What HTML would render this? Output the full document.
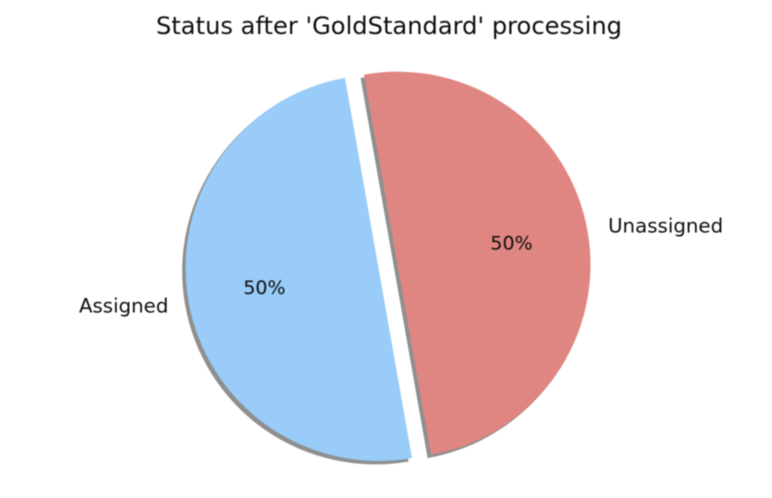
<!DOCTYPE html>
<html>
<head>
<meta charset="utf-8">
<style>
html,body{margin:0;padding:0;background:#fff;width:772px;height:498px;overflow:hidden}
svg{display:block}
text{font-family:"DejaVu Sans","Liberation Sans",sans-serif;fill:#111}
</style>
</head>
<body>
<svg id="chart" width="772" height="498" viewBox="0 0 772 498" xmlns="http://www.w3.org/2000/svg">
  <defs>
    <filter id="soft" x="-5%" y="-5%" width="110%" height="110%"><feGaussianBlur stdDeviation="0.6"/></filter>
    <filter id="softText" x="-5%" y="-20%" width="110%" height="140%"><feGaussianBlur stdDeviation="0.5"/></filter>
  </defs>
  <text x="389" y="34" text-anchor="middle" font-size="24.2" textLength="466" lengthAdjust="spacingAndGlyphs" filter="url(#softText)">Status after 'GoldStandard' processing</text>
  <g id="shadows" filter="url(#soft)"></g>
  <g id="wedges" filter="url(#soft)"></g>
  <g id="labels" filter="url(#softText)"></g>
</svg>
<script>
const categories = ['Assigned', 'Unassigned'];
const values = [50, 50];
const explodeFractions = [0, 0.1];
const startAngle = 100;
const sliceColors = ['#99ccf8', '#e08682'];

const cx = 378.5, cy = 268, radius = 193;
const ns = 'http://www.w3.org/2000/svg';
const total = values.reduce((a, b) => a + b, 0);
const shadowsGroup = document.getElementById('shadows');
const wedgesGroup = document.getElementById('wedges');
const labelsGroup = document.getElementById('labels');

function pointAt(x, y, r, deg) {
  const a = deg * Math.PI / 180;
  return [x + r * Math.cos(a), y - r * Math.sin(a)];
}
function wedgePath(x, y, r, a0, a1) {
  const p0 = pointAt(x, y, r, a0);
  const p1 = pointAt(x, y, r, a1);
  const large = a1 - a0 > 180 ? 1 : 0;
  return 'M' + x + ' ' + y + 'L' + p0[0] + ' ' + p0[1] + 'A' + r + ' ' + r + ' 0 ' + large + ' 0 ' + p1[0] + ' ' + p1[1] + 'Z';
}
function addText(x, y, str, anchor, size) {
  const t = document.createElementNS(ns, 'text');
  t.setAttribute('x', x);
  t.setAttribute('y', y);
  t.setAttribute('text-anchor', anchor);
  t.setAttribute('font-size', size);
  t.setAttribute('dominant-baseline', 'central');
  t.textContent = str;
  labelsGroup.appendChild(t);
  return t;
}

let angle = startAngle;
values.forEach(function (value, i) {
  const sweep = value / total * 360;
  const a0 = angle, a1 = angle + sweep, mid = (a0 + a1) / 2;
  const c = pointAt(cx, cy, explodeFractions[i] * radius, mid);
  const onRight = Math.cos(mid * Math.PI / 180) > 0;

  const shadow = document.createElementNS(ns, 'path');
  
  
  shadow.setAttribute('d', wedgePath(c[0] - 3.4, c[1] + 3.4, radius, a0, a1));
  shadow.setAttribute('fill', 'rgba(70,70,70,0.6)');
  shadowsGroup.appendChild(shadow);

  const wedge = document.createElementNS(ns, 'path');
  
  
  wedge.setAttribute('d', wedgePath(c[0], c[1], radius, a0, a1));
  wedge.setAttribute('fill', sliceColors[i]);
  wedgesGroup.appendChild(wedge);

  const lp = pointAt(c[0], c[1], radius * 1.1, mid);
  const label = addText(lp[0] + (onRight ? 1.5 : -1), lp[1] + (onRight ? -2 : 1), categories[i], onRight ? 'start' : 'end', 19.8);
  
  

  const pp = pointAt(c[0], c[1], radius * 0.6, mid);
  const pct = addText(pp[0], pp[1] + (onRight ? -1 : 0), Math.round(value / total * 100) + '%', 'middle', 19);
  
  

  angle = a1;
});
</script>
</body>
</html>
